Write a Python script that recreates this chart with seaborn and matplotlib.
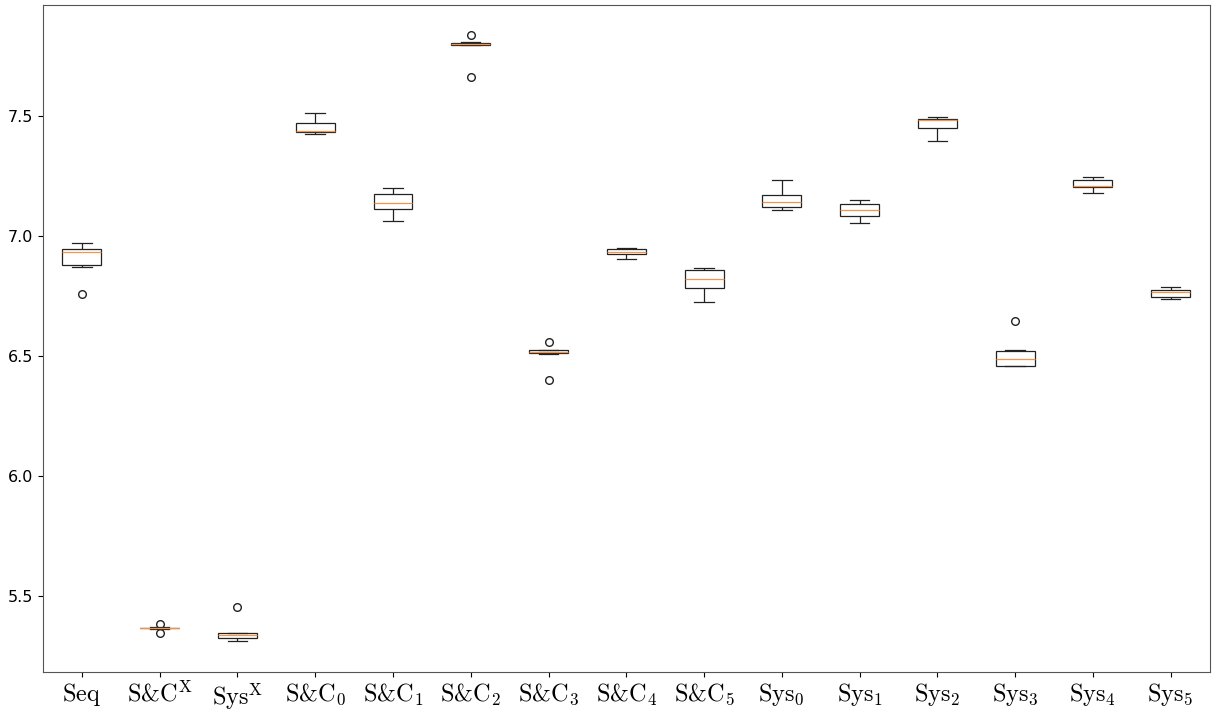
import numpy as np
import pandas as pd
import matplotlib
matplotlib.use("Agg")
import matplotlib.pyplot as plt
import seaborn as sns

# Category labels (LaTeX-like via mathtext)
categories = ["Seq", "S&C^X", "Sys^X", "S&C_0", "S&C_1", "S&C_2", "S&C_3",
              "S&C_4", "S&C_5", "Sys_0", "Sys_1", "Sys_2", "Sys_3", "Sys_4", "Sys_5"]
tick_labels = [r"$\mathrm{Seq}$", r"$\mathrm{S&C}^{\mathrm{X}}$", r"$\mathrm{Sys}^{\mathrm{X}}$",
               r"$\mathrm{S&C}_{0}$", r"$\mathrm{S&C}_{1}$", r"$\mathrm{S&C}_{2}$",
               r"$\mathrm{S&C}_{3}$", r"$\mathrm{S&C}_{4}$", r"$\mathrm{S&C}_{5}$",
               r"$\mathrm{Sys}_{0}$", r"$\mathrm{Sys}_{1}$", r"$\mathrm{Sys}_{2}$",
               r"$\mathrm{Sys}_{3}$", r"$\mathrm{Sys}_{4}$", r"$\mathrm{Sys}_{5}$"]

# Run results per configuration (9 runs each)
seq    = [6.755, 6.870, 6.878, 6.905, 6.930, 6.938, 6.945, 6.958, 6.969]
sc_x   = [5.346, 5.361, 5.363, 5.364, 5.365, 5.365, 5.366, 5.368, 5.381]
sys_x  = [5.312, 5.318, 5.323, 5.330, 5.337, 5.341, 5.345, 5.346, 5.453]
sc_0   = [7.425, 7.428, 7.430, 7.434, 7.438, 7.455, 7.471, 7.490, 7.510]
sc_1   = [7.063, 7.090, 7.112, 7.124, 7.135, 7.155, 7.175, 7.188, 7.200]
sc_2   = [7.662, 7.795, 7.796, 7.798, 7.800, 7.801, 7.803, 7.807, 7.837]
sc_3   = [6.400, 6.507, 6.510, 6.514, 6.517, 6.520, 6.523, 6.524, 6.555]
sc_4   = [6.902, 6.915, 6.924, 6.928, 6.931, 6.938, 6.945, 6.947, 6.949]
sc_5   = [6.724, 6.760, 6.781, 6.800, 6.819, 6.840, 6.857, 6.862, 6.867]
sys_0  = [7.109, 7.114, 7.119, 7.130, 7.142, 7.155, 7.171, 7.200, 7.230]
sys_1  = [7.053, 7.068, 7.082, 7.095, 7.106, 7.120, 7.132, 7.140, 7.148]
sys_2  = [7.394, 7.420, 7.449, 7.465, 7.480, 7.484, 7.487, 7.491, 7.495]
sys_3  = [6.455, 6.455, 6.456, 6.470, 6.487, 6.505, 6.521, 6.522, 6.644]
sys_4  = [7.178, 7.190, 7.202, 7.204, 7.206, 7.220, 7.234, 7.240, 7.246]
sys_5  = [6.735, 6.740, 6.744, 6.755, 6.766, 6.770, 6.774, 6.781, 6.788]

series = [seq, sc_x, sys_x, sc_0, sc_1, sc_2, sc_3, sc_4, sc_5,
          sys_0, sys_1, sys_2, sys_3, sys_4, sys_5]

rows = []
for cat, vals in zip(categories, series):
    for v in vals:
        rows.append({"config": cat, "value": v})
df = pd.DataFrame(rows)

plt.rcParams["mathtext.fontset"] = "cm"

fig = plt.figure(figsize=(12.12, 7.11), dpi=100)
ax = fig.add_axes([0.0355, 0.0553, 0.998 - 0.0355, 0.9934 - 0.0553])

sns.boxplot(data=df, x="config", y="value", order=categories, ax=ax,
            width=0.5, color="white", linecolor="#222222", linewidth=0.9,
            whis=1.5, fliersize=5,
            medianprops={"color": "#f5934a", "linewidth": 0.9},
            flierprops={"marker": "o", "markerfacecolor": "none",
                        "markeredgecolor": "#222222", "markersize": 5.5})

ax.set_xlim(-0.5, len(categories) - 0.5)
ax.set_ylim(5.183, 7.9625)
ax.set_yticks([5.5, 6.0, 6.5, 7.0, 7.5])
ax.set_yticklabels(["5.5", "6.0", "6.5", "7.0", "7.5"], fontsize=11.5)
ax.set_xticks(range(len(categories)))
ax.set_xticklabels(tick_labels, fontsize=17.5)
ax.set_xlabel("")
ax.set_ylabel("")
ax.grid(False)
for s in ax.spines.values():
    s.set_visible(True)
    s.set_color("#555555")

fig.savefig("out.png", dpi=100)
